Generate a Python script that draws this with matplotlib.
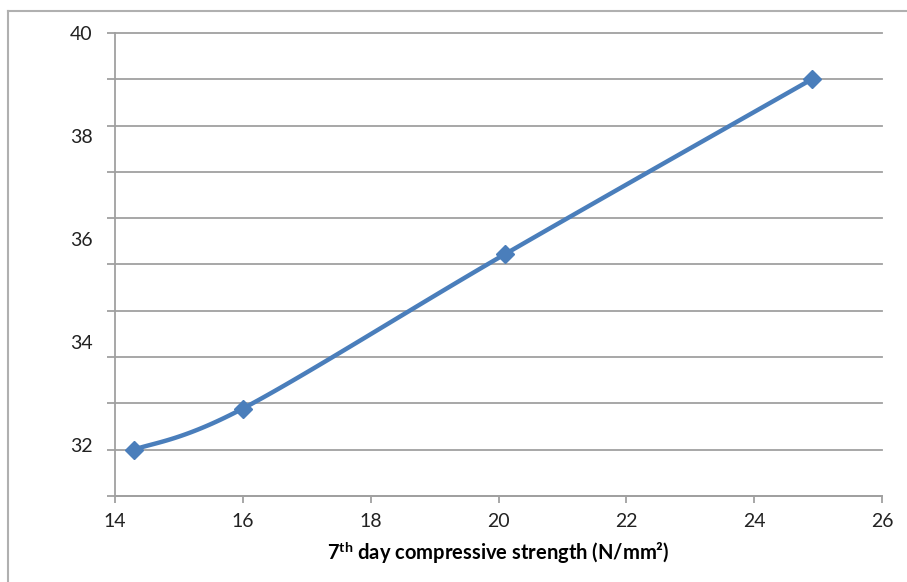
import matplotlib.pyplot as plt
import numpy as np
from matplotlib.lines import Line2D

# values
strength_7d = [14.3, 16.0, 20.1, 24.9]
strength_28d = [31.9, 32.7, 35.7, 39.1]
x_ticks = [14, 16, 18, 20, 22, 24, 26]
y_labels = [32, 34, 36, 38, 40]
y_grid = [40 - 0.9 * k for k in range(11)]

plt.rcParams['font.family'] = ['Lato', 'DejaVu Sans']
plt.rcParams['mathtext.fontset'] = 'custom'
plt.rcParams['mathtext.rm'] = 'Lato'
plt.rcParams['mathtext.bf'] = 'Lato:bold'


def smooth(xs, ys, n=40):
    # excel style smoothed line (bezier through the points)
    p = np.column_stack([xs, ys]).astype(float)
    p = np.vstack([p[0], p, p[-1]])
    out = []
    t = np.linspace(0, 1, n)[:, None]
    for i in range(1, len(p) - 2):
        a, b = p[i], p[i + 1]
        c1 = a + (p[i + 1] - p[i - 1]) / 6
        c2 = b - (p[i + 2] - p[i]) / 6
        seg = (1 - t) ** 3 * a + 3 * (1 - t) ** 2 * t * c1 + 3 * (1 - t) * t ** 2 * c2 + t ** 3 * b
        out.append(seg)
    out = np.vstack(out)
    return out[:, 0], out[:, 1]


fig = plt.figure(figsize=(9.07, 5.82), dpi=100)
ax = fig.add_axes([115 / 907, 1 - 496 / 582, 767 / 907, 463 / 582])

blue = '#4A7EBB'
sx, sy = smooth(strength_7d, strength_28d)
ax.plot(sx, sy, color=blue, lw=3.2, solid_capstyle='round', zorder=3)
ax.plot(strength_7d, strength_28d, 'D', color=blue, ms=9, zorder=4)

ax.set_xlim(14, 26)
ax.set_ylim(31, 40)
ax.yaxis.remove_overlapping_locs = False
ax.set_xticks(x_ticks)
ax.set_yticks(y_grid)
ax.set_yticklabels([])
ax.set_yticks(y_labels, minor=True)
ax.set_yticklabels([str(v) for v in y_labels], minor=True)

grey = '#A0A0A0'
ax.grid(axis='y', which='major', color=grey, lw=1.3)
for g in ax.yaxis.get_gridlines():
    g.set_clip_on(False)
ax.set_axisbelow(True)
for s in ['top', 'right']:
    ax.spines[s].set_visible(False)
for s in ['left', 'bottom']:
    ax.spines[s].set_color(grey)
    ax.spines[s].set_linewidth(1.3)

ax.tick_params(axis='y', which='major', direction='out', length=6, width=1.3, color=grey)
ax.tick_params(axis='y', which='minor', length=0, pad=16, labelsize=14, labelcolor='#222222')
ax.tick_params(axis='x', direction='out', length=5, width=1.3, color=grey, pad=7,
               labelsize=14, labelcolor='#222222')

ax.set_xlabel(r'7$^{\mathbf{th}}$ day compressive strength (N/mm²)', fontsize=14.5,
              fontweight='bold', labelpad=7)

# chart border
fig.add_artist(Line2D([8 / 907, 8 / 907], [0, 1 - 11 / 582], transform=fig.transFigure,
                      color='#B0B0B0', lw=1.5))
fig.add_artist(Line2D([8 / 907, 1], [1 - 11 / 582, 1 - 11 / 582], transform=fig.transFigure,
                      color='#B0B0B0', lw=1.5))

plt.savefig('out.png', dpi=100)
